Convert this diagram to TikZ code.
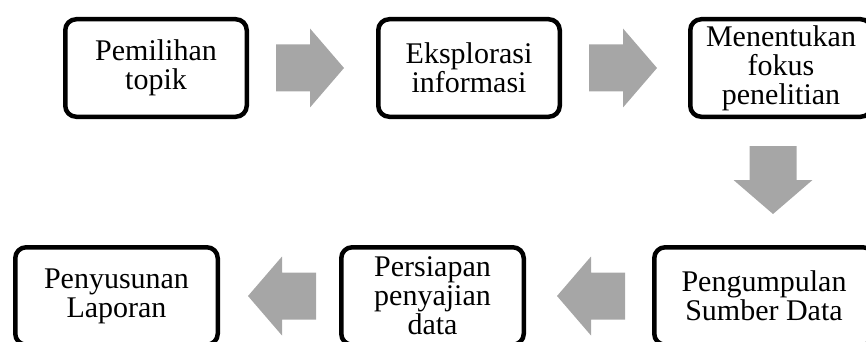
\documentclass[tikz,border=0pt]{standalone}
\usepackage{fontspec}
\setmainfont{Liberation Serif}
\usetikzlibrary{calc}
\definecolor{arrowgray}{RGB}{166,166,166}
\tikzset{
  stepbox/.style={draw=black, line width=4.5pt, rounded corners=11pt,
    minimum height=97.5pt, inner sep=0pt, align=center,
    font=\fontsize{30}{29}\selectfont},
  blockarrow/.style={fill=arrowgray, draw=none}
}
\newcommand{\blockarr}[2]{% center, rotation
  \fill[blockarrow, shift={(#1)}, rotate=#2]
    (-34,-23.5) -- (0,-23.5) -- (0,-39.5) -- (34,0) -- (0,39.5) -- (0,23.5) -- (-34,23.5) -- cycle;
}
\begin{document}
\begin{tikzpicture}[x=1pt,y=1pt]
\useasboundingbox (0,0) rectangle (866,-342);
\clip (0,0) rectangle (866,-342);
% top row
\node[stepbox, minimum width=181.5pt] (b1) at (156,-68) {Pemilihan\\topik};
\node[stepbox, minimum width=181.5pt] (b2) at (469,-68) {Eksplorasi\\informasi};
\node[stepbox, minimum width=181.5pt] (b3) at (781,-68) {Menentukan\\fokus\\penelitian};
% bottom row
\node[stepbox, minimum width=219.5pt] (b4) at (764,-296) {Pengumpulan\\Sumber Data};
\node[stepbox, minimum width=182.5pt] (b5) at (432.5,-296) {Persiapan\\penyajian\\data};
\node[stepbox, minimum width=202.5pt] (b6) at (116.5,-296) {Penyusunan\\Laporan};
% block arrows
\coordinate (a1) at (310,-68);
\coordinate (a2) at (623,-68);
\coordinate (a3) at (773,-180);
\coordinate (a4) at (591,-296);
\coordinate (a5) at (282,-296);
\blockarr{a1}{0}
\blockarr{a2}{0}
\blockarr{a3}{-90}
\blockarr{a4}{180}
\blockarr{a5}{180}
\end{tikzpicture}
\end{document}
